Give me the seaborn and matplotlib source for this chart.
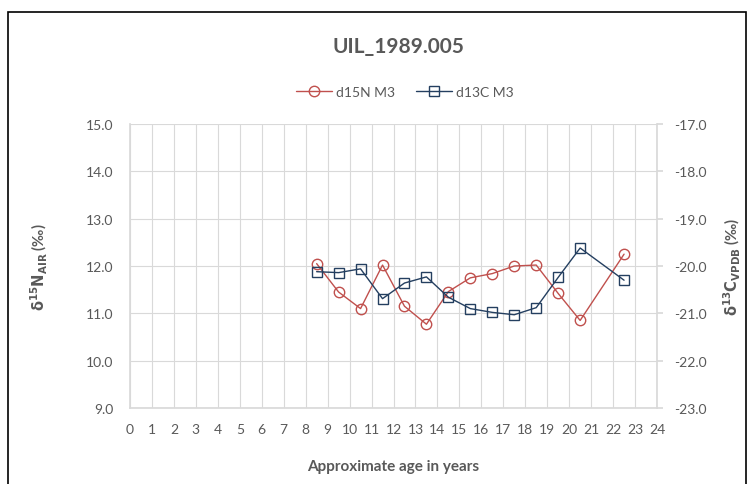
import matplotlib
matplotlib.use("Agg")
import matplotlib.pyplot as plt
import seaborn as sns
from matplotlib.patches import Rectangle

# approximate age (years) of each sampled section
age = [8.5, 9.5, 10.5, 11.5, 12.5, 13.5, 14.5, 15.5, 16.5, 17.5, 18.5, 19.5, 20.5, 22.5]
d15n = [12.05, 11.45, 11.10, 12.02, 11.15, 10.77, 11.46, 11.75, 11.84, 12.00, 12.02, 11.42, 10.85, 12.25]
d13c = [-20.12, -20.14, -20.06, -20.69, -20.36, -20.23, -20.66, -20.90, -20.98, -21.03, -20.88, -20.24, -19.62, -20.30]

x_ticks = list(range(0, 25))
left_ticks = [9, 10, 11, 12, 13, 14, 15]
right_ticks = [-23, -22, -21, -20, -19, -18, -17]

RED = "#c0504d"
BLUE = "#243f60"
GREY = "#595959"
GRID = "#d9d9d9"

sns.set_theme(style="white")
plt.rcParams["font.family"] = ["Lato", "DejaVu Sans"]
plt.rcParams["mathtext.fontset"] = "dejavusans"

fig = plt.figure(figsize=(7.5, 4.85), dpi=100)
ax = fig.add_axes([130 / 750, 1 - 409 / 485, 527 / 750, 284 / 485])
ax2 = ax.twinx()

sns.lineplot(x=age, y=d15n, ax=ax, color=RED, marker="o", markersize=7.5,
             markerfacecolor="none", markeredgecolor=RED, markeredgewidth=1.0,
             linewidth=1.0, label="d15N M3", legend=False)
sns.lineplot(x=age, y=d13c, ax=ax2, color=BLUE, marker="s", markersize=7.5,
             markerfacecolor="none", markeredgecolor=BLUE, markeredgewidth=1.0,
             linewidth=1.0, label="d13C M3", legend=False)

ax.set_xlim(0, 24)
ax.set_ylim(9, 15)
ax2.set_ylim(-23, -17)
ax.set_xticks(x_ticks)
ax.set_yticks(left_ticks)
ax2.set_yticks(right_ticks)
ax.set_yticklabels([f"{v:.1f}" for v in left_ticks])
ax2.set_yticklabels([f"{v:.1f}" for v in right_ticks])

ax.grid(True, color=GRID, linewidth=0.8)
ax.set_axisbelow(True)
ax2.grid(False)

for a in (ax, ax2):
    for s in a.spines.values():
        s.set_visible(False)
ax.spines["left"].set_visible(True)
ax.spines["bottom"].set_visible(True)
ax.spines["left"].set_color(GRID)
ax.spines["bottom"].set_color(GRID)
ax2.spines["right"].set_visible(True)
ax2.spines["right"].set_color(GRID)

ax.tick_params(axis="x", length=0, pad=11, labelsize=10, labelcolor=GREY)
ax.tick_params(axis="y", length=0, pad=12, labelsize=10, labelcolor=GREY)
ax2.tick_params(axis="y", length=4, color=GRID, pad=8, labelsize=10, labelcolor=GREY)

ax.set_xlabel("Approximate age in years", fontsize=11, fontweight="bold", color=GREY)
ax.xaxis.set_label_coords(0.5, -0.18)
ax.set_ylabel(r"$\mathbf{\delta^{15}N_{AIR}}$ (‰)", fontsize=10.5, fontweight="bold", color=GREY)
ax.yaxis.set_label_coords(-0.171, 0.5)
ax.yaxis.label.set_va("center")
ax2.set_ylabel(r"$\mathbf{\delta^{13}C_{VPDB}}$ (‰)", fontsize=10.5, fontweight="bold",
               color=GREY, rotation=90)
ax2.yaxis.set_label_coords(1.144, 0.5)
ax2.yaxis.label.set_va("center")

fig.text(398 / 750, 1 - 47 / 485, "UIL_1989.005", ha="center", va="center",
         fontsize=15, fontweight="bold", color=GREY)

handles = ax.get_lines()[:1] + ax2.get_lines()[:1]
fig.legend(handles, ["d15N M3", "d13C M3"], loc="center", ncol=2,
           bbox_to_anchor=(405 / 750, 1 - 93 / 485), frameon=False, fontsize=10,
           labelcolor=GREY, handlelength=2.6, handletextpad=0.3, columnspacing=1.5)

fig.patches.append(Rectangle((8 / 750, -0.1), 738 / 750, 1.1 - 13 / 485,
                             transform=fig.transFigure, fill=False,
                             edgecolor="black", linewidth=1.2))

fig.savefig("out.png", dpi=100)
